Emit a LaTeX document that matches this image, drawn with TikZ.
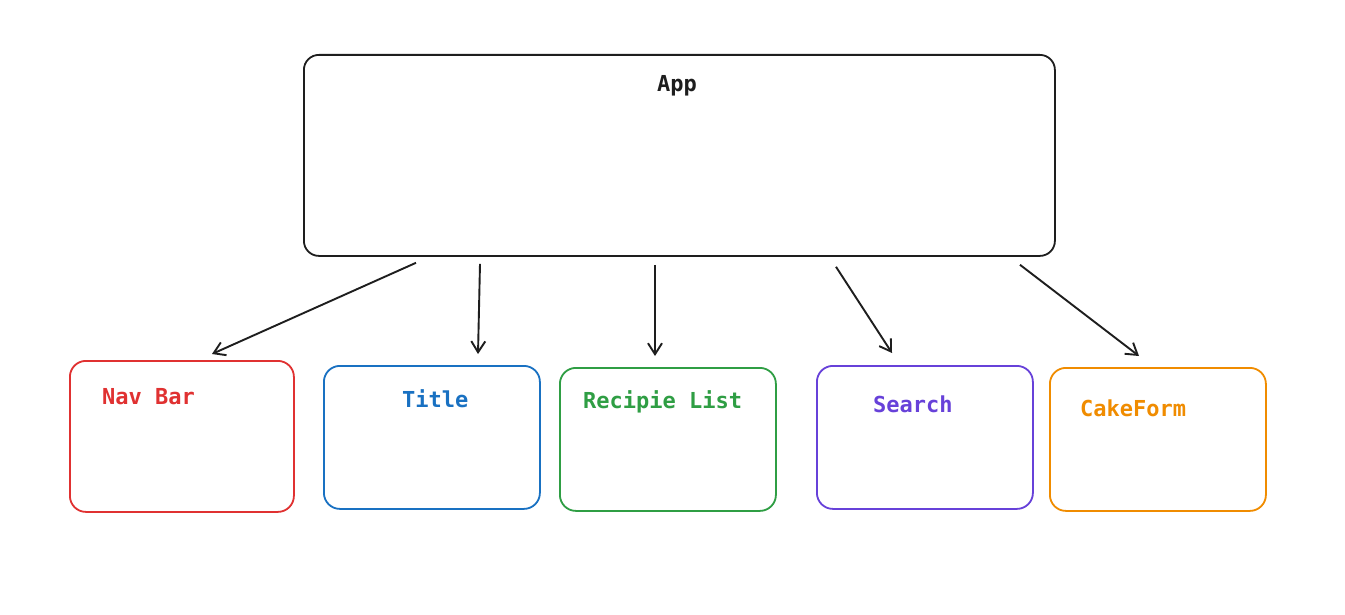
\documentclass[tikz,border=0pt]{standalone}
\usepackage{fontspec}
\setmonofont{DejaVu Sans Mono}
\usetikzlibrary{arrows.meta}
\definecolor{ink}{HTML}{1E1E1E}
\definecolor{navred}{HTML}{E03131}
\definecolor{titleblue}{HTML}{1971C2}
\definecolor{listgreen}{HTML}{2F9E44}
\definecolor{searchviolet}{HTML}{6741D9}
\definecolor{cakeorange}{HTML}{F08C00}
\tikzset{
  box/.style={draw, line width=1.8pt, rounded corners=16pt, inner sep=0pt, anchor=north west, fill=white},
  lbl/.style={inner sep=0pt, font=\ttfamily\bfseries\fontsize{22}{26}\selectfont},
  arr/.style={draw=ink, line width=1.9pt, -{Straight Barb[length=11pt,width=14pt,line width=1.9pt]}}
}
\begin{document}
\begin{tikzpicture}[x=1pt,y=-1pt]
\useasboundingbox[fill=white] (0,0) rectangle (1345,615);
% boxes
\node[box, draw=ink, rounded corners=15pt, minimum width=751pt, minimum height=201pt] (app) at (303,54) {};
\node[box, draw=navred, minimum width=224pt, minimum height=151pt] (nav) at (69,360) {};
\node[box, draw=titleblue, minimum width=216pt, minimum height=143pt] (title) at (323,365) {};
\node[box, draw=listgreen, minimum width=216pt, minimum height=143pt] (list) at (559,367) {};
\node[box, draw=searchviolet, minimum width=216pt, minimum height=143pt] (search) at (816,365) {};
\node[box, draw=cakeorange, minimum width=216pt, minimum height=143pt] (cake) at (1049,367) {};
% labels
\node[lbl, text=ink, anchor=base] (appt) at (677,92) {App};
\node[lbl, text=navred, anchor=base west] (navt) at (102,404) {Nav Bar};
\node[lbl, text=titleblue, anchor=base west] (titlet) at (402,407) {Title};
\node[lbl, text=listgreen, anchor=base west] (listt) at (583,408) {Recipie List};
\node[lbl, text=searchviolet, anchor=base west] (searcht) at (873,412) {Search};
\node[lbl, text=cakeorange, anchor=base west] (caket) at (1080,416) {CakeForm};
% connectors
\draw[arr] ([shift={(113,6)}]app.south west) -- ([shift={(143,-6)}]nav.north west);
\draw[arr] ([shift={(177,7)}]app.south west) -- ([shift={(155,-11)}]title.north west);
\draw[arr] ([shift={(352,8)}]app.south west) -- ([shift={(96,-11)}]list.north west);
\draw[arr] ([shift={(533,10)}]app.south west) -- ([shift={(76,-12)}]search.north west);
\draw[arr] ([shift={(717,8)}]app.south west) -- ([shift={(90,-11)}]cake.north west);
\end{tikzpicture}
\end{document}
